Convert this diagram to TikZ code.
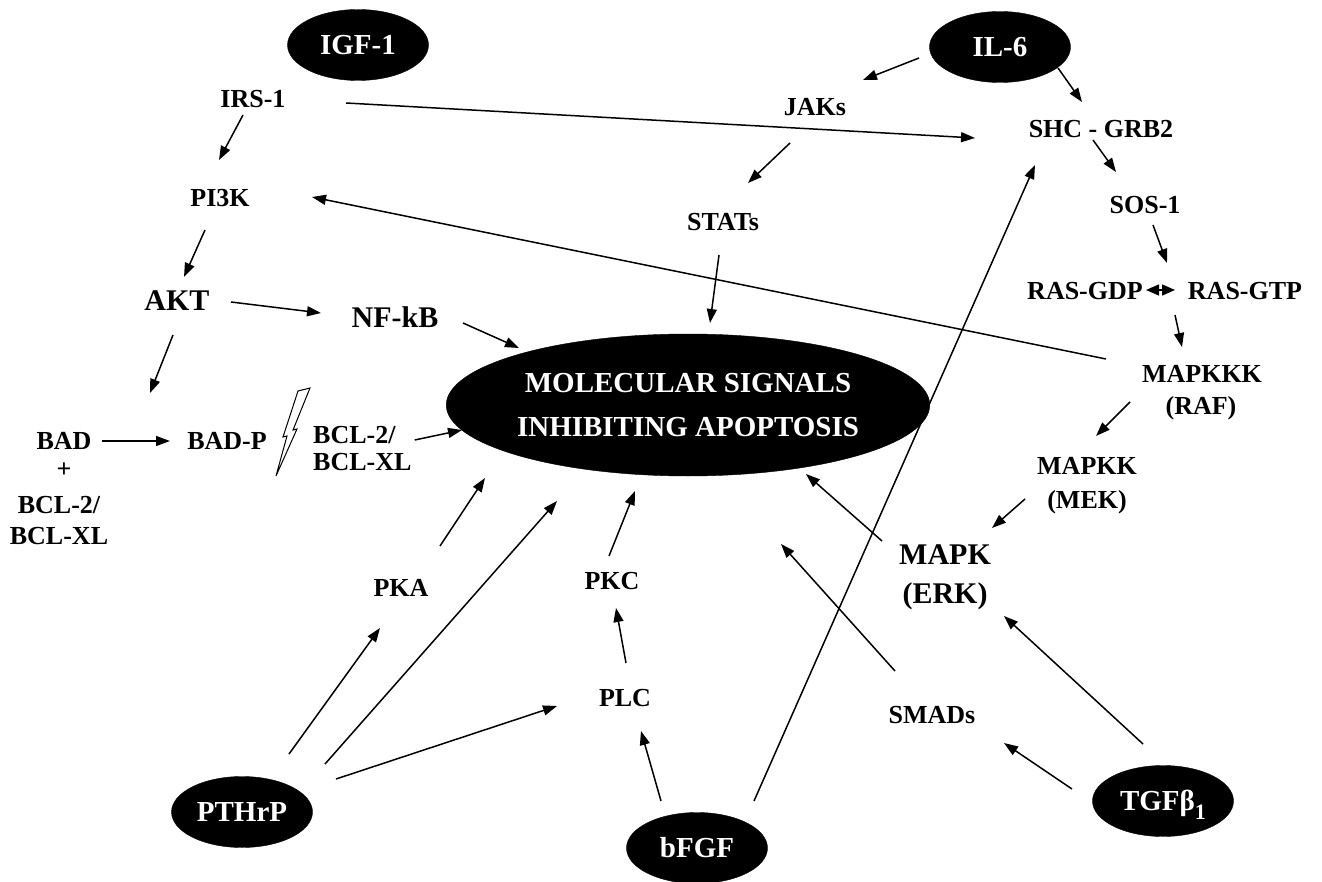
\documentclass[tikz,border=0pt]{standalone}
\usepackage{fontspec}
\setmainfont{Liberation Serif}
\usetikzlibrary{shapes.geometric,arrows.meta,calc}
\newcommand\linkab[4]{\draw[arr] ($(#1)+(#2)$) -- ($(#3)+(#4)$);}
\begin{document}
\begin{tikzpicture}[x=1pt,y=-1pt,
  lbl/.style={inner sep=0pt, text height=17.2pt, text depth=0pt, font=\fontsize{26}{31}\selectfont\bfseries},
  big/.style={inner sep=0pt, text height=20pt, text depth=0pt, font=\fontsize{30}{36}\selectfont\bfseries},
  blob/.style={ellipse, fill=black, draw=black, text=white, inner sep=0pt,
    minimum width=141pt, minimum height=71pt, text height=19.5pt, text depth=0pt,
    font=\fontsize{29}{34}\selectfont\bfseries},
  arr/.style={-{Triangle[length=14pt,width=10pt]}, line width=1.5pt},
]
\useasboundingbox (0,0) rectangle (1322,882);
\fill[white] (0,0) rectangle (1322,882);

% source ellipses
\node[blob] (igf) at (358,45) {IGF-1};
\node[blob] (il6) at (1000,47) {IL-6};
\node[blob] (pthrp) at (242,812) {PTHrP};
\node[blob] (bfgf) at (697,848) {bFGF};
\node[blob] (tgf) at (1163,801) {TGFβ\raisebox{-9pt}{\fontsize{22}{22}\selectfont 1}};
\node[ellipse, fill=black, draw=black, text=white, inner sep=0pt,
  minimum width=446pt, minimum height=142pt, align=center,
  font=\fontsize{29}{44}\selectfont\bfseries] (mol) at (688,405)
  {MOLECULAR SIGNALS\\INHIBITING APOPTOSIS};

% labels
\node[lbl] (irs) at (253,99) {IRS-1};
\node[lbl] (pi3k) at (220,198) {PI3K};
\node[big] (akt) at (177,301) {AKT};
\node[big] (nfkb) at (395,318) {NF-kB};
\node[lbl] (bad) at (64,441) {BAD};
\node[lbl] (plus) at (64,469) {+};
\node[lbl] (bcla) at (59,505) {BCL-2/};
\node[lbl] (bclb) at (59,536) {BCL-XL};
\node[lbl] (badp) at (227,441) {BAD-P};
\node[lbl, anchor=west] (bcl) at (313,435) {BCL-2/};
\node[lbl, anchor=west] (bclx) at (313,462) {BCL-XL};
\node[lbl] (jaks) at (815,107) {JAKs};
\node[lbl] (stats) at (723,222) {STATs};
\node[lbl] (shc) at (1101,129) {SHC - GRB2};
\node[lbl] (sos) at (1145,205) {SOS-1};
\node[lbl] (rasgdp) at (1085,291) {RAS-GDP};
\node[lbl] (rasgtp) at (1245,291) {RAS-GTP};
\node[lbl] (mapkkk) at (1202,374) {MAPKKK};
\node[lbl] (raf) at (1201,406) {(RAF)};
\node[lbl] (mapkk) at (1087,466) {MAPKK};
\node[lbl] (mek) at (1087,500) {(MEK)};
\node[big] (mapk) at (945,554) {MAPK};
\node[big] (erk) at (945,593) {(ERK)};
\node[lbl] (smads) at (932,715) {SMADs};
\node[lbl] (pka) at (401,588) {PKA};
\node[lbl] (pkc) at (612,581) {PKC};
\node[lbl] (plc) at (625,698) {PLC};

% lightning bolt
\draw[line width=1pt, fill=white, line join=miter]
  (276,476) -- (287,436) -- (283,437) -- (298,391) -- (310,388)
  -- (293,430) -- (297,429) -- cycle;

% connectors
\linkab{irs}{-10,16}{pi3k}{-1,-38}
\linkab{irs}{93,4}{shc}{-126,9}
\linkab{pi3k}{-15,32}{akt}{7,-24}
\linkab{akt}{54,1}{nfkb}{-74,-5}
\linkab{nfkb}{68,5}{mol}{-169,-57}
\linkab{akt}{-4,34}{badp}{-77,-48}
\linkab{bad}{38,0}{badp}{-57,0}
\linkab{bcl.east}{19,5}{mol}{-226,25}
\linkab{mapkkk}{-96,-15}{pi3k}{92,-1}
\linkab{il6}{-81,11}{jaks}{48,-27}
\linkab{il6}{58,21}{shc}{-19,-27}
\linkab{jaks}{-25,36}{stats}{25,-39}
\linkab{stats}{-4,33}{mol}{22,-82}
\linkab{shc}{-8,11}{sos}{-29,-33}
\linkab{sos}{8,20}{rasgtp}{-78,-28}
\draw[{Triangle[length=13pt,width=11pt]}-{Triangle[length=13pt,width=11pt]}, line width=1.5pt]
  ($(rasgdp)+(61,-1)$) -- ($(rasgtp)+(-70,-1)$);
\linkab{rasgtp}{-70,24}{mapkkk}{-20,-27}
\linkab{raf}{-71,-4}{mapkk}{9,-30}
\linkab{mek}{-62,-1}{mapk}{47,-26}
\linkab{mapk}{-63,-13}{mol}{118,69}
\linkab{tgf}{-20,-57}{erk}{59,23}
\linkab{tgf}{-91,-12}{smads}{72,28}
\linkab{smads}{-37,-44}{mol}{93,139}
\linkab{bfgf}{57,-47}{shc}{-66,36}
\linkab{bfgf}{-36,-47}{plc}{16,33}
\linkab{plc}{1,-35}{pkc}{4,27}
\linkab{pkc}{-3,-25}{mol}{-53,86}
\linkab{pthrp}{47,-58}{pka}{-21,40}
\linkab{pthrp}{83,-48}{mol}{-131,96}
\linkab{pthrp}{94,-33}{plc}{-68,8}
\linkab{pka}{39,-42}{mol}{-203,73}
\end{tikzpicture}
\end{document}
